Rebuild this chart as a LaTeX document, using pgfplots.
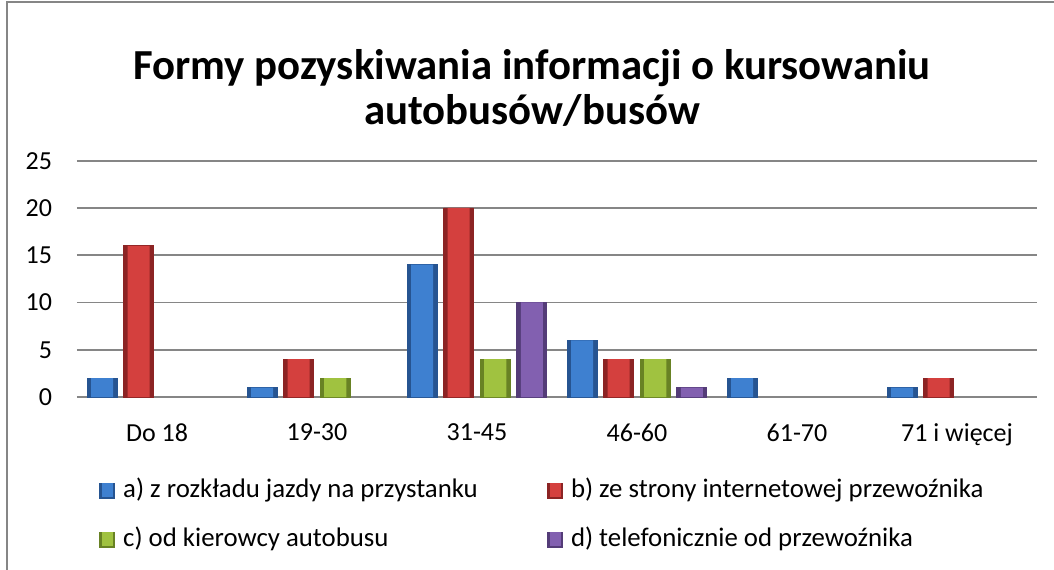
\documentclass[border=0pt]{standalone}
\usepackage{fontspec}
\setmainfont{Carlito}
\usepackage{pgfplots}
\pgfplotsset{compat=1.18}
\definecolor{blueD}{RGB}{38,84,145}
\definecolor{blueL}{RGB}{62,128,208}
\definecolor{redD}{RGB}{140,36,36}
\definecolor{redL}{RGB}{212,64,62}
\definecolor{greenD}{RGB}{104,130,36}
\definecolor{greenL}{RGB}{160,194,64}
\definecolor{purpD}{RGB}{84,60,120}
\definecolor{purpL}{RGB}{130,96,176}
\definecolor{gridc}{RGB}{134,134,134}
\pgfplotsset{
  bevel/.style n args={3}{ybar, bar width=15pt, bar shift=#1, draw=#2, fill=#2, line width=0.4pt},
  bevelin/.style n args={2}{ybar, bar width=11pt, bar shift=#1, draw=none, fill=#2, forget plot},
}
\begin{document}
\begin{tikzpicture}
\useasboundingbox (0,0) rectangle (527pt,-284.5pt);
\draw[gridc, line width=0.8pt] (3.5pt,-290pt) -- (3.5pt,-1pt) -- (535pt,-1pt);
\node[font=\fontsize{21.4}{22.5}\selectfont\bfseries, align=center] at (266pt,-44pt) {Formy pozyskiwania informacji o kursowaniu\\autobusów/busów};
\begin{axis}[
  at={(38.5pt,-198.5pt)}, anchor=south west,
  width=480pt, height=118.15pt, scale only axis,
  xmin=-0.5, xmax=5.5, ymin=0, ymax=25,
  ytick={0,5,...,25},
  xtick={0,...,5},
  xticklabels={Do 18,19-30,31-45,46-60,61-70,71 i więcej},
  axis line style={draw=none},
  major tick length=0pt,
  ymajorgrids, grid style={gridc, line width=0.8pt},
  tick label style={font=\fontsize{13}{15}\selectfont},
  /pgf/number format/assume math mode=true,
  yticklabel style={xshift=-9pt},
  xticklabel style={yshift=-10pt},
  legend columns=2,
  legend style={draw=none, at={(0,0)}, anchor=north west, xshift=8pt, yshift=-38pt,
    font=\fontsize{13.4}{15}\selectfont, row sep=10.5pt,
    nodes={inner sep=1pt, text height=9pt, text depth=3pt}},
  legend cell align=left,
]
\addplot[bevel={-27.375pt}{blueD}{}, legend image code/.code={\fill[blueD] (0pt,-3.5pt) rectangle (7.5pt,4pt); \fill[blueL] (1.2pt,-2.3pt) rectangle (6.3pt,4pt);}] coordinates {(0,2) (1,1) (2,14) (3,6) (4,2) (5,1)};
\addlegendentry{\hspace*{3pt}\makebox[211pt][l]{a) z rozkładu jazdy na przystanku}}
\addplot[bevelin={-27.375pt}{blueL}] coordinates {(0,2) (1,1) (2,14) (3,6) (4,2) (5,1)};
\addplot[bevel={-9.125pt}{redD}{}, legend image code/.code={\fill[redD] (0pt,-3.5pt) rectangle (7.5pt,4pt); \fill[redL] (1.2pt,-2.3pt) rectangle (6.3pt,4pt);}] coordinates {(0,16) (1,4) (2,20) (3,4) (5,2)};
\addlegendentry{\hspace*{3pt}b) ze strony internetowej przewoźnika}
\addplot[bevelin={-9.125pt}{redL}] coordinates {(0,16) (1,4) (2,20) (3,4) (5,2)};
\addplot[bevel={9.125pt}{greenD}{}, legend image code/.code={\fill[greenD] (0pt,-3.5pt) rectangle (7.5pt,4pt); \fill[greenL] (1.2pt,-2.3pt) rectangle (6.3pt,4pt);}] coordinates {(1,2) (2,4) (3,4)};
\addlegendentry{\hspace*{3pt}\makebox[211pt][l]{c) od kierowcy autobusu}}
\addplot[bevelin={9.125pt}{greenL}] coordinates {(1,2) (2,4) (3,4)};
\addplot[bevel={27.375pt}{purpD}{}, legend image code/.code={\fill[purpD] (0pt,-3.5pt) rectangle (7.5pt,4pt); \fill[purpL] (1.2pt,-2.3pt) rectangle (6.3pt,4pt);}] coordinates {(2,10) (3,1)};
\addlegendentry{\hspace*{3pt}d) telefonicznie od przewoźnika}
\addplot[bevelin={27.375pt}{purpL}] coordinates {(2,10) (3,1)};
\end{axis}
\end{tikzpicture}
\end{document}
